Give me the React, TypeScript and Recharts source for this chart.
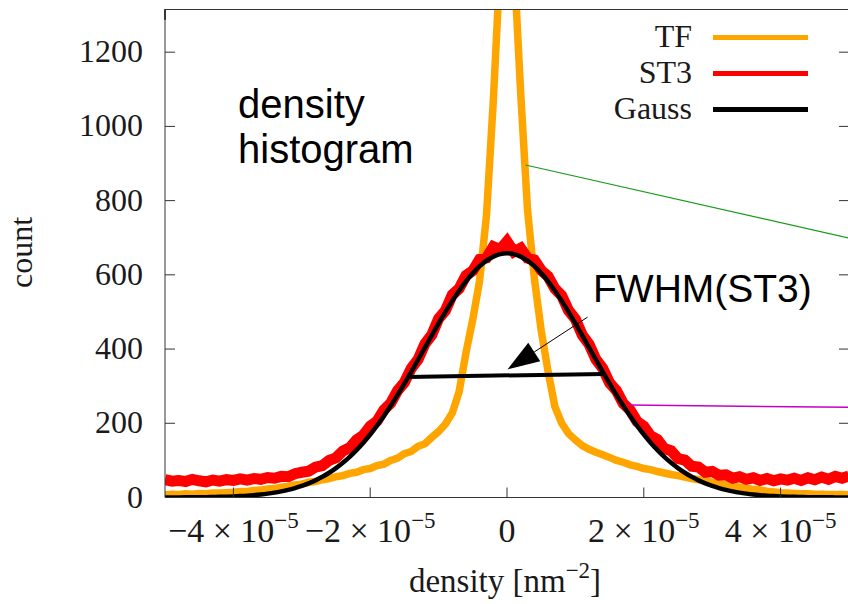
import { LineChart, Line, XAxis, YAxis, ReferenceLine, Legend } from 'recharts';

// density bins in units of 1e-5 nm^-2
const DENSITY_E5 = [
  -5.0, -4.9, -4.8, -4.7, -4.6, -4.5, -4.4, -4.3, -4.2, -4.1,
  -4.0, -3.9, -3.8, -3.7, -3.6, -3.5, -3.4, -3.3, -3.2, -3.1,
  -3.0, -2.9, -2.8, -2.7, -2.6, -2.5, -2.4, -2.3, -2.2, -2.1,
  -2.0, -1.9, -1.8, -1.7, -1.6, -1.5, -1.4, -1.3, -1.2, -1.1,
  -1.0, -0.9, -0.8, -0.7, -0.6, -0.5, -0.4, -0.3, -0.2, -0.1,
  0.0,
  0.1, 0.2, 0.3, 0.4, 0.5, 0.6, 0.7, 0.8, 0.9, 1.0,
  1.1, 1.2, 1.3, 1.4, 1.5, 1.6, 1.7, 1.8, 1.9, 2.0,
  2.1, 2.2, 2.3, 2.4, 2.5, 2.6, 2.7, 2.8, 2.9, 3.0,
  3.1, 3.2, 3.3, 3.4, 3.5, 3.6, 3.7, 3.8, 3.9, 4.0,
  4.1, 4.2, 4.3, 4.4, 4.5, 4.6, 4.7, 4.8, 4.9, 5.0,
];

const TF_COUNTS = [
  7, 9, 8, 10, 9, 11, 10, 12, 12, 13,
  14, 16, 16, 19, 20, 23, 24, 28, 30, 34,
  36, 41, 43, 48, 51, 56, 59, 65, 68, 75,
  78, 86, 90, 100, 106, 118, 124, 138, 145, 162,
  178, 198, 228, 285, 390, 480, 585, 760, 1070, 1440,
  1850,
  1450, 1090, 775, 590, 450, 340, 245, 200, 172, 155,
  140, 130, 122, 115, 108, 100, 95, 88, 84, 78,
  75, 70, 66, 62, 59, 55, 51, 48, 45, 41,
  38, 34, 31, 28, 25, 22, 20, 17, 15, 13,
  12, 11, 10, 10, 9, 9, 8, 8, 8, 7,
];

const ST3_COUNTS = [
  48, 44, 46, 43, 49, 45, 42, 47, 44, 48,
  46, 50, 47, 51, 49, 54, 52, 57, 56, 64,
  68, 71, 82, 86, 100, 107, 125, 134, 155, 168,
  192, 206, 236, 254, 288, 310, 348, 372, 414, 438,
  482, 504, 546, 563, 598, 611, 642, 646, 676, 668,
  690,
  662, 672, 645, 640, 612, 596, 563, 544, 504, 481,
  438, 413, 372, 348, 309, 288, 253, 236, 205, 192,
  166, 156, 132, 126, 105, 101, 84, 82, 68, 70,
  60, 61, 52, 56, 49, 53, 46, 51, 45, 50,
  47, 52, 46, 53, 48, 55, 49, 57, 52, 58,
];

const GAUSS_COUNTS = [
  0.1, 0.2, 0.3, 0.4, 0.5, 0.7, 0.9, 1.3, 1.7, 2.2,
  2.9, 3.8, 4.9, 6.4, 8.2, 10.4, 13.1, 16.5, 20.5, 25.4,
  31.2, 38.1, 46.2, 55.7, 66.7, 79.2, 93.5, 109.6, 127.7, 147.7,
  169.7, 193.7, 219.6, 247.2, 276.4, 307.1, 338.7, 371.2, 404.0, 436.7,
  469.0, 500.1, 529.8, 557.3, 582.5, 604.6, 623.3, 638.2, 649.1, 655.8,
  658,
  655.8, 649.1, 638.2, 623.3, 604.6, 582.5, 557.3, 529.8, 500.1, 469.0,
  436.7, 404.0, 371.2, 338.7, 307.1, 276.4, 247.2, 219.6, 193.7, 169.7,
  147.7, 127.7, 109.6, 93.5, 79.2, 66.7, 55.7, 46.2, 38.1, 31.2,
  25.4, 20.5, 16.5, 13.1, 10.4, 8.2, 6.4, 4.9, 3.8, 2.9,
  2.2, 1.7, 1.3, 0.9, 0.7, 0.5, 0.4, 0.3, 0.2, 0.1,
];

const SERIES_ORDER = ['TF', 'ST3', 'Gauss'];
const X_TICKS = [-4e-5, -2e-5, 0, 2e-5, 4e-5];
const Y_TICKS = [0, 200, 400, 600, 800, 1000, 1200];
const X_DOMAIN = [-5e-5, 5e-5];
const Y_DOMAIN = [0, 1315];

// annotation segments (data coordinates)
const FWHM_BAR = [{ x: -1.456e-5, y: 325 }, { x: 1.426e-5, y: 333 }];
const FWHM_ARROW = [{ x: 1.178e-5, y: 486 }, { x: 0.007e-5, y: 345 }];
const GREEN_LINK = [{ x: 0.27e-5, y: 896 }, { x: 5e-5, y: 699 }];
const MAGENTA_LINK = [{ x: 1.79e-5, y: 249 }, { x: 5e-5, y: 243 }];

const data = DENSITY_E5.map((d, i) => ({
  density: d * 1e-5,
  tf: TF_COUNTS[i],
  st3: ST3_COUNTS[i],
  gauss: GAUSS_COUNTS[i],
}));

const SERIF = '"Liberation Serif", "DejaVu Serif", serif';
const SANS = '"Liberation Sans", Arial, sans-serif';
const INK = '#1a1a1a';
const FRAME = '#333';

const renderBottomTick = ({ x, y, payload }: any) => {
  const m = Math.round(payload.value / 1e-5);
  return (
    <g>
      <line x1={x} y1={y} x2={x} y2={y - 10} stroke={FRAME} />
      <text x={x} y={y + 44} textAnchor="middle" fontFamily={SERIF} fontSize={34} fill={INK}>
        {m === 0 ? '0' : (
          <>
            {(m < 0 ? '−' : '') + Math.abs(m) + ' × 10'}
            <tspan dy={-14} fontSize={23}>−5</tspan>
          </>
        )}
      </text>
    </g>
  );
};

const renderTopTick = ({ x, y }: any) => (
  <line x1={x} y1={y} x2={x} y2={y + 10} stroke={FRAME} />
);

const renderLeftTick = ({ x, y, payload }: any) => (
  <g>
    <line x1={x} y1={y} x2={x + 10} y2={y} stroke={FRAME} />
    <text x={x - 22} y={y + 10} textAnchor="end" fontFamily={SERIF} fontSize={32} fill={INK}>
      {payload.value}
    </text>
  </g>
);

const renderRightTick = ({ x, y }: any) => (
  <line x1={x} y1={y} x2={x - 10} y2={y} stroke={FRAME} />
);

const renderArrow = ({ x1, y1, x2, y2 }: any) => {
  const dx = x2 - x1;
  const dy = y2 - y1;
  const len = Math.sqrt(dx * dx + dy * dy) || 1;
  const ux = dx / len;
  const uy = dy / len;
  const bx = x2 - ux * 32;
  const by = y2 - uy * 32;
  const pts = `${x2},${y2} ${bx - uy * 11},${by + ux * 11} ${bx + uy * 11},${by - ux * 11}`;
  return (
    <g>
      <line x1={x1} y1={y1} x2={bx} y2={by} stroke="#000" strokeWidth={1} />
      <polygon points={pts} fill="#000" />
    </g>
  );
};

const renderLegend = ({ payload }: any) => {
  const items = [...(payload || [])].sort(
    (a: any, b: any) => SERIES_ORDER.indexOf(a.value) - SERIES_ORDER.indexOf(b.value)
  );
  return (
    <svg width={230} height={130}>
      {items.map((item: any, i: number) => (
        <g key={item.value}>
          <text x={92} y={47 + i * 36} textAnchor="end" fontFamily={SERIF} fontSize={32} fill={INK}>
            {item.value}
          </text>
          <line x1={113} x2={208} y1={37.5 + i * 36} y2={37.5 + i * 36} stroke={item.color} strokeWidth={5} />
        </g>
      ))}
    </svg>
  );
};

const renderYTitle = ({ viewBox }: any) => {
  const cx = viewBox.x + 32;
  const cy = viewBox.y + viewBox.height / 2 - 1;
  return (
    <text x={cx} y={cy} transform={`rotate(-90, ${cx}, ${cy})`} textAnchor="middle"
      fontFamily={SERIF} fontSize={32} fill={INK}>
      count
    </text>
  );
};

const renderXTitle = ({ viewBox }: any) => (
  <text x={viewBox.x + viewBox.width / 2 - 2} y={viewBox.y + 94} textAnchor="middle"
    fontFamily={SERIF} fontSize={33} fill={INK}>
    density [nm<tspan dy={-14} fontSize={23}>−2</tspan><tspan dy={14}>]</tspan>
  </text>
);

export default function App() {
  return (
    <div style={{ position: 'relative', width: 848, height: 604, overflow: 'hidden', background: '#fff' }}>
      <style>{'html,body{margin:0;padding:0;overflow:hidden;background:#fff}'}</style>
      <LineChart width={860} height={604} data={data} margin={{ top: 0, right: 0, bottom: 0, left: 0 }}>
        <XAxis
          dataKey="density"
          type="number"
          domain={X_DOMAIN}
          allowDataOverflow
          ticks={X_TICKS}
          interval={0}
          height={106.5}
          tickSize={0}
          tickMargin={0}
          tickLine={false}
          axisLine={{ stroke: FRAME }}
          tick={renderBottomTick}
          label={{ value: 'density', content: renderXTitle }}
        />
        <XAxis
          xAxisId="top"
          orientation="top"
          type="number"
          domain={X_DOMAIN}
          allowDataOverflow
          ticks={X_TICKS}
          interval={0}
          height={9.5}
          tickSize={0}
          tickMargin={0}
          tickLine={false}
          axisLine={{ stroke: FRAME }}
          tick={renderTopTick}
        />
        <YAxis
          type="number"
          domain={Y_DOMAIN}
          allowDataOverflow
          ticks={Y_TICKS}
          interval={0}
          width={165}
          tickSize={0}
          tickMargin={0}
          tickLine={false}
          axisLine={{ stroke: FRAME }}
          tick={renderLeftTick}
          label={{ value: 'count', content: renderYTitle }}
        />
        <YAxis
          yAxisId="right"
          orientation="right"
          type="number"
          domain={Y_DOMAIN}
          allowDataOverflow
          ticks={Y_TICKS}
          interval={0}
          width={11}
          tickSize={0}
          tickMargin={0}
          tickLine={false}
          axisLine={{ stroke: FRAME }}
          tick={renderRightTick}
        />
        <Line type="linear" dataKey="tf" name="TF" stroke="#ffa500" strokeWidth={7.5}
          dot={false} activeDot={false} isAnimationActive={false} />
        <Line type="linear" dataKey="st3" name="ST3" stroke="#ff0000" strokeWidth={11}
          dot={false} activeDot={false} isAnimationActive={false} />
        <Line type="monotone" dataKey="gauss" name="Gauss" stroke="#000000" strokeWidth={4.5}
          dot={false} activeDot={false} isAnimationActive={false} />
        <ReferenceLine segment={GREEN_LINK} stroke="#1a9a1a" strokeWidth={1.2} ifOverflow="visible" />
        <ReferenceLine segment={MAGENTA_LINK} stroke="#c400c4" strokeWidth={1.5} ifOverflow="visible" />
        <ReferenceLine segment={FWHM_BAR} stroke="#000" strokeWidth={4} ifOverflow="visible" />
        <ReferenceLine segment={FWHM_ARROW} ifOverflow="visible" shape={renderArrow} />
        <Legend
          layout="horizontal"
          verticalAlign="middle"
          align="center"
          content={renderLegend}
          wrapperStyle={{ position: 'absolute', left: 600, top: 0, width: 230, height: 130 }}
        />
      </LineChart>
      <svg width={848} height={604} style={{ position: 'absolute', left: 0, top: 0, pointerEvents: 'none' }}>
        <text x={238} y={118} fontFamily={SANS} fontSize={40} fill="#000">density</text>
        <text x={238} y={163} fontFamily={SANS} fontSize={40} fill="#000">histogram</text>
        <text x={593} y={302} fontFamily={SANS} fontSize={39} fill="#000">FWHM(ST3)</text>
      </svg>
    </div>
  );
}
